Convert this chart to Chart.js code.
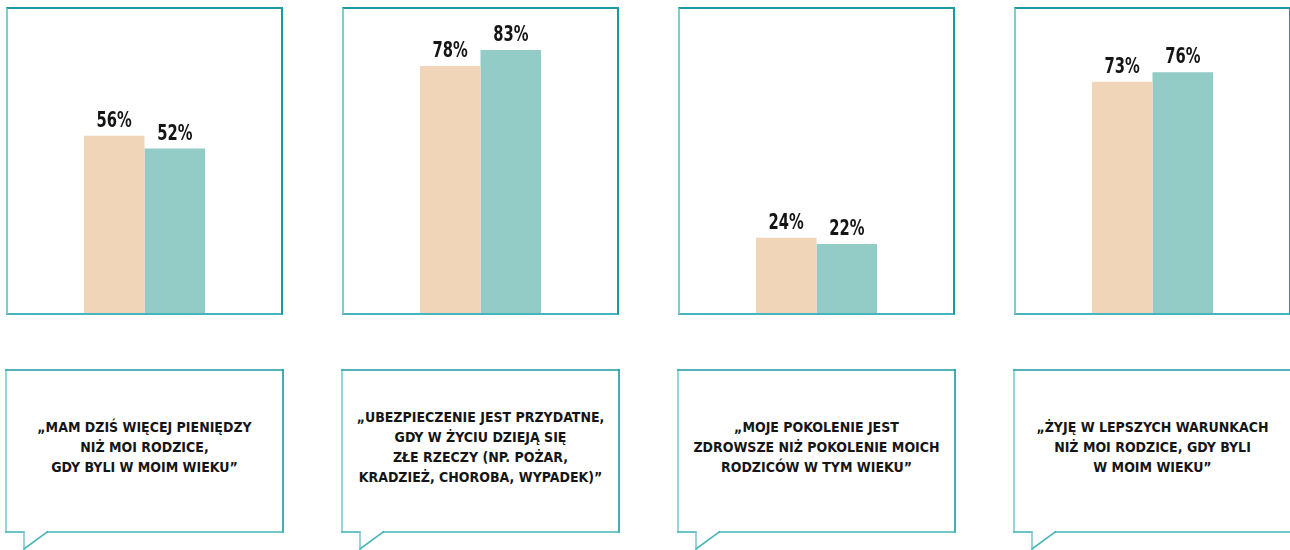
<!DOCTYPE html>
<html>
<head>
<meta charset="utf-8">
<script src="https://cdn.jsdelivr.net/npm/chart.js@4/dist/chart.umd.min.js"></script>
<style>
  html, body { margin: 0; padding: 0; background: #fff; }
  body { width: 1290px; height: 550px; position: relative; overflow: hidden; }
  .panel { position: absolute; top: 8px; width: 277px; height: 306px; }
  .panel canvas { position: absolute; left: 0; top: 0; }
  .frame { position: absolute; top: 7px; width: 277px; height: 308px; box-sizing: border-box;
           border-top: 2px solid #1b98a2; border-right: 2px solid #1b98a2;
           border-left: 2px solid #7fcbd0; border-bottom: 2px solid #46b4bc; pointer-events: none; }
  svg.bubbles { position: absolute; left: 0; top: 0; }
  .quote { position: absolute; top: 370px; width: 277px; height: 154px; display: flex;
           align-items: center; justify-content: center; text-align: center;
           font-family: "DejaVu Sans Condensed", "Liberation Sans Narrow", sans-serif;
           font-weight: bold; font-size: 14px; line-height: 20px; color: #151515; }
</style>
</head>
<body>
<svg class="bubbles" width="1290" height="550" id="bub"></svg>
<div id="root"></div>
<script>
// ---- data ----
const statements = [
  "„MAM DZIŚ WIĘCEJ PIENIĘDZY\nNIŻ MOI RODZICE,\nGDY BYLI W MOIM WIEKU”",
  "„UBEZPIECZENIE JEST PRZYDATNE,\nGDY W ŻYCIU DZIEJĄ SIĘ\nZŁE RZECZY (NP. POŻAR,\nKRADZIEŻ, CHOROBA, WYPADEK)”",
  "„MOJE POKOLENIE JEST\nZDROWSZE NIŻ POKOLENIE MOICH\nRODZICÓW W TYM WIEKU”",
  "„ŻYJĘ W LEPSZYCH WARUNKACH\nNIŻ MOI RODZICE, GDY BYLI\nW MOIM WIEKU”"
];
const series1 = [56, 78, 24, 73];
const series2 = [52, 83, 22, 76];
const seriesNames = ["Seria 1", "Seria 2"];

// ---- layout ----
const lefts = [6, 342, 678, 1014];
const W = 277, H = 306;
const colors = ["#f1d5b8", "#93cbc7"];

const valueLabels = {
  id: 'valueLabels',
  afterDatasetsDraw(chart) {
    const ctx = chart.ctx;
    chart.data.datasets.forEach((ds, i) => {
      chart.getDatasetMeta(i).data.forEach((bar, j) => {
        ctx.save();
        ctx.font = 'bold 21px "DejaVu Sans Condensed", sans-serif';
        ctx.fillStyle = '#151515';
        ctx.textAlign = 'center';
        ctx.textBaseline = 'alphabetic';
        ctx.translate(bar.x, bar.y - 9);
        ctx.scale(0.78, 1);
        ctx.fillText(ds.data[j] + '%', 0, 0);
        ctx.restore();
      });
    });
  }
};

const root = document.getElementById('root');
const svg = document.getElementById('bub');
const NS = 'http://www.w3.org/2000/svg';
function line(x1, y1, x2, y2, c) {
  const l = document.createElementNS(NS, 'line');
  l.setAttribute('x1', x1); l.setAttribute('y1', y1);
  l.setAttribute('x2', x2); l.setAttribute('y2', y2);
  l.setAttribute('stroke', c); l.setAttribute('stroke-width', 1.6);
  l.setAttribute('stroke-linecap', 'square');
  svg.appendChild(l);
}

statements.forEach((st, k) => {
  const L = lefts[k];
  const p = document.createElement('div');
  p.className = 'panel'; p.style.left = L + 'px';
  const cv = document.createElement('canvas');
  cv.width = W; cv.height = H;
  p.appendChild(cv);
  root.appendChild(p);
  const f = document.createElement('div');
  f.className = 'frame'; f.style.left = L + 'px';
  root.appendChild(f);

  new Chart(cv, {
    type: 'bar',
    data: {
      labels: [st],
      datasets: [
        { label: seriesNames[0], data: [series1[k]], backgroundColor: colors[0] },
        { label: seriesNames[1], data: [series2[k]], backgroundColor: colors[1] }
      ]
    },
    options: {
      responsive: false,
      animation: false,
      devicePixelRatio: 1,
      layout: { padding: 0 },
      datasets: { bar: { categoryPercentage: 0.437, barPercentage: 1.0, borderWidth: 0 } },
      scales: {
        x: { display: false },
        y: { display: false, min: 0, max: 96.2 }
      },
      plugins: { legend: { display: false }, tooltip: { enabled: false } }
    },
    plugins: [valueLabels]
  });

  // speech bubble
  const x0 = L, x1 = L + W, yt = 370, yb = 532;
  line(x0, yt, x0, yb, '#7fcbd0');
  line(x0, yt, x1, yt, '#1b98a2');
  line(x1, yt, x1, yb, '#1b98a2');
  line(x0, yb, x0 + 18, yb, '#46b4bc');
  line(x0 + 41, yb, x1, yb, '#46b4bc');
  line(x0 + 18, yb, x0 + 18, 549, '#7fcbd0');
  line(x0 + 18, 549, x0 + 41, yb, '#46b4bc');

  const q = document.createElement('div');
  q.className = 'quote'; q.style.left = L + 'px';
  q.innerHTML = st.split('\n').map(s => s.replace(/&/g, '&amp;')).join('<br>');
  root.appendChild(q);
});
</script>
</body>
</html>
